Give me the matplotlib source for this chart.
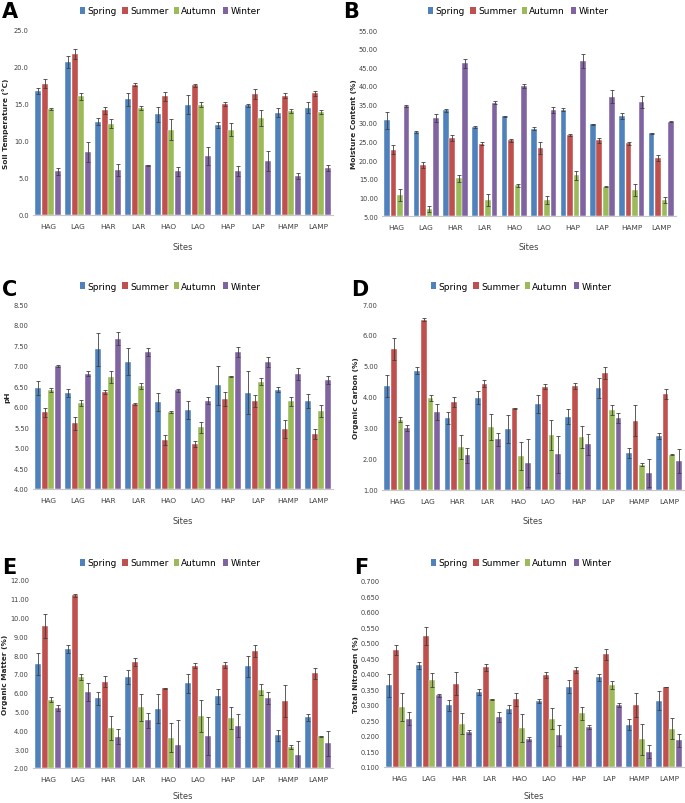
import numpy as np
import matplotlib
matplotlib.use('Agg')
import matplotlib.pyplot as plt
from matplotlib.patches import Patch
from matplotlib import font_manager

# narrow font for ticks (Excel style); fall back if not installed
names = {f.name for f in font_manager.fontManager.ttflist}
narrow = 'Liberation Sans Narrow' if 'Liberation Sans Narrow' in names else 'DejaVu Sans'
plt.rcParams['font.family'] = [narrow, 'DejaVu Sans']

sites = ['HAG', 'LAG', 'HAR', 'LAR', 'HAO', 'LAO', 'HAP', 'LAP', 'HAMP', 'LAMP']
seasons = ['Spring', 'Summer', 'Autumn', 'Winter']
colors = ['#4F81BD', '#C0504D', '#9BBB59', '#8064A2']

# A - soil temperature, rows = sites, cols = seasons
temp = [[16.7, 17.7, 14.3, 5.9], [20.6, 21.7, 16.0, 8.5], [12.6, 14.1, 12.3, 6.1],
        [15.6, 17.6, 14.4, 6.7], [13.6, 16.0, 11.5, 5.9], [14.9, 17.5, 14.9, 8.0],
        [12.2, 15.0, 11.5, 5.9], [14.8, 16.3, 13.1, 7.3], [13.8, 16.1, 14.0, 5.3],
        [14.5, 16.4, 13.9, 6.4]]
temp_err = [[0.4, 0.6, 0.2, 0.5], [0.8, 0.7, 0.5, 1.4], [0.5, 0.5, 0.6, 0.8],
            [0.9, 0.2, 0.3, 0.1], [1.0, 0.6, 1.4, 0.6], [1.3, 0.2, 0.3, 1.2],
            [0.4, 0.3, 0.9, 0.7], [0.2, 0.7, 1.1, 1.3], [0.6, 0.3, 0.3, 0.4],
            [0.8, 0.3, 0.3, 0.4]]

# B - moisture content
moist = [[30.7, 22.8, 10.6, 34.6], [27.5, 18.7, 6.9, 31.4], [33.4, 26.0, 15.1, 46.0],
         [28.9, 24.4, 9.3, 35.5], [31.8, 25.4, 13.2, 39.9], [28.4, 23.3, 9.3, 33.5],
         [33.6, 26.8, 15.9, 46.7], [29.6, 25.3, 12.9, 37.1], [32.0, 24.6, 12.1, 35.7],
         [27.2, 20.7, 9.3, 30.4]]
moist_err = [[2.2, 1.2, 1.7, 0.3], [0.3, 0.8, 0.9, 1.0], [0.4, 0.8, 1.0, 1.2],
             [0.3, 0.4, 1.5, 0.3], [0.2, 0.4, 0.5, 0.6], [0.4, 1.7, 1.2, 0.7],
             [0.5, 0.2, 1.2, 1.8], [0.1, 0.6, 0.2, 1.7], [0.8, 0.4, 1.6, 1.6],
             [0.2, 0.8, 0.8, 0.2]]

# C - pH
ph = [[6.46, 5.87, 6.40, 6.99], [6.33, 5.60, 6.09, 6.80], [7.40, 6.36, 6.73, 7.66],
      [7.10, 6.07, 6.50, 7.34], [6.12, 5.19, 5.87, 6.40], [5.93, 5.10, 5.50, 6.15],
      [6.52, 6.19, 6.74, 7.33], [6.34, 6.14, 6.61, 7.08], [6.42, 5.45, 6.14, 6.80],
      [6.14, 5.33, 5.89, 6.66]]
ph_err = [[0.17, 0.11, 0.05, 0.02], [0.10, 0.16, 0.08, 0.06], [0.40, 0.05, 0.14, 0.15],
          [0.32, 0.03, 0.07, 0.10], [0.22, 0.12, 0.03, 0.03], [0.22, 0.07, 0.13, 0.09],
          [0.47, 0.16, 0.02, 0.12], [0.52, 0.14, 0.09, 0.12], [0.06, 0.22, 0.11, 0.15],
          [0.18, 0.12, 0.15, 0.10]]

# D - organic carbon
oc = [[4.36, 5.55, 3.27, 3.01], [4.85, 6.50, 3.96, 3.52], [3.32, 3.83, 2.39, 2.12],
      [3.98, 4.43, 3.03, 2.63], [2.98, 3.63, 2.10, 1.88], [3.77, 4.33, 2.78, 2.15],
      [3.37, 4.35, 2.71, 2.47], [4.30, 4.78, 3.58, 3.33], [2.18, 3.24, 1.82, 1.55],
      [2.73, 4.10, 2.14, 1.93]]
oc_err = [[0.35, 0.35, 0.07, 0.10], [0.12, 0.05, 0.10, 0.27], [0.20, 0.16, 0.39, 0.24],
          [0.22, 0.12, 0.43, 0.22], [0.45, 0.02, 0.45, 0.77], [0.29, 0.08, 0.48, 0.60],
          [0.23, 0.09, 0.34, 0.35], [0.32, 0.19, 0.17, 0.17], [0.16, 0.50, 0.06, 0.45],
          [0.10, 0.17, 0.02, 0.38]]

# E - organic matter
om = [[7.53, 9.55, 5.64, 5.19], [8.33, 11.18, 6.83, 6.06], [5.71, 6.59, 4.14, 3.66],
      [6.84, 7.63, 5.23, 4.53], [5.14, 6.25, 3.62, 3.23], [6.50, 7.45, 4.78, 3.71],
      [5.81, 7.50, 4.68, 4.26], [7.40, 8.24, 6.17, 5.72], [3.75, 5.58, 3.13, 2.68],
      [4.70, 7.05, 3.69, 3.32]]
om_err = [[0.57, 0.62, 0.13, 0.17], [0.23, 0.08, 0.17, 0.47], [0.35, 0.30, 0.64, 0.40],
          [0.38, 0.21, 0.73, 0.40], [0.77, 0.03, 0.78, 1.33], [0.50, 0.14, 0.84, 1.02],
          [0.40, 0.16, 0.59, 0.62], [0.56, 0.32, 0.29, 0.30], [0.29, 0.86, 0.10, 0.77],
          [0.18, 0.29, 0.03, 0.67]]

# F - total nitrogen
tn = [[0.363, 0.478, 0.295, 0.256], [0.428, 0.523, 0.381, 0.331], [0.299, 0.369, 0.240, 0.214],
      [0.342, 0.421, 0.318, 0.260], [0.287, 0.318, 0.226, 0.190], [0.314, 0.397, 0.255, 0.202],
      [0.359, 0.413, 0.273, 0.230], [0.389, 0.463, 0.364, 0.300], [0.237, 0.300, 0.190, 0.149],
      [0.314, 0.358, 0.224, 0.186]]
tn_err = [[0.038, 0.017, 0.045, 0.022], [0.011, 0.030, 0.022, 0.006], [0.018, 0.038, 0.034, 0.006],
          [0.011, 0.011, 0.001, 0.016], [0.012, 0.022, 0.044, 0.006], [0.006, 0.011, 0.034, 0.033],
          [0.021, 0.011, 0.021, 0.006], [0.012, 0.017, 0.013, 0.006], [0.017, 0.039, 0.050, 0.021],
          [0.030, 0.001, 0.035, 0.022]]

W, H = 685, 804
fig = plt.figure(figsize=(W / 100, H / 100), dpi=100)
ytick_fs = 5.5 if narrow != 'DejaVu Sans' else 4.8
xtick_fs = 6 if narrow != 'DejaVu Sans' else 5.3


def px_rect(x0, y_top, x1, y_bot):
    return [x0 / W, 1 - y_bot / H, (x1 - x0) / W, (y_bot - y_top) / H]


def panel(letter, box, vals, errs, ylim, step, fmt, ylabel, letter_xy, leg_xy, sites_y, ylab_x):
    ax = fig.add_axes(px_rect(*box))
    vals = np.array(vals)
    errs = np.array(errs)
    x = np.arange(len(sites))
    bw = 0.19
    pitch = 0.22
    for i, s in enumerate(seasons):
        xs = x + (i - 1.5) * pitch
        ax.bar(xs, vals[:, i] - ylim[0], bw, bottom=ylim[0], color=colors[i],
               edgecolor='white', linewidth=0.3, zorder=2)
        ax.errorbar(xs, vals[:, i], yerr=errs[:, i], fmt='none', ecolor='#404040',
                    elinewidth=0.6, capsize=1.2, capthick=0.6, zorder=3)
    ax.set_xlim(-0.5, len(sites) - 0.5)
    ax.set_ylim(*ylim)
    ticks = np.arange(ylim[0], ylim[1] + step / 2, step)
    ax.set_yticks(ticks)
    ax.set_yticklabels([fmt.format(t) for t in ticks])
    ax.set_xticks(x)
    ax.set_xticklabels(sites)
    ax.tick_params(axis='x', length=0, labelsize=xtick_fs, colors='#404040', pad=6)
    ax.tick_params(axis='y', length=0, labelsize=ytick_fs, colors='#404040', pad=3)
    for side in ['top', 'right', 'left']:
        ax.spines[side].set_visible(False)
    ax.spines['bottom'].set_color('#c8c8c8')
    ax.spines['bottom'].set_linewidth(0.8)
    cx = (box[0] + box[2]) / 2
    fig.text(cx / W, 1 - sites_y / H, 'Sites', ha='center', va='center',
             fontsize=6, color='#404040')
    fig.text(ylab_x / W, 1 - (box[1] + box[3]) / 2 / H, ylabel, rotation=90,
             ha='center', va='center', fontsize=5.3, fontweight='bold',
             family='DejaVu Sans', color='#262626')
    fig.text(letter_xy[0] / W, 1 - letter_xy[1] / H, letter, ha='left', va='center',
             fontsize=15, fontweight='bold', family='DejaVu Sans')
    handles = [Patch(facecolor=c, label=s) for c, s in zip(colors, seasons)]
    fig.legend(handles=handles, loc='center', bbox_to_anchor=(leg_xy[0] / W, 1 - leg_xy[1] / H),
               ncol=4, frameon=False, fontsize=6.5, handlelength=0.6, handleheight=0.8,
               handletextpad=0.25, columnspacing=0.6, borderpad=0)
    return ax


panel('A', (33, 30.7, 333, 216), temp, temp_err, (0, 25), 5, '{:.1f}',
      'Soil Temperature (°C)', (2, 12), (170, 12), 247, 6)
panel('B', (382, 31, 676, 217), moist, moist_err, (5, 55), 5, '{:.2f}',
      'Moisture Content (%)', (343, 12), (518, 12), 247, 354)
panel('C', (33, 305, 333, 490), ph, ph_err, (4, 8.5), 0.5, '{:.2f}',
      'pH', (2, 290), (170, 287), 522, 7)
panel('D', (382, 305, 684, 491), oc, oc_err, (1, 7), 1, '{:.2f}',
      'Organic Carbon (%)', (351, 290), (521, 287), 522, 356)
panel('E', (33, 581, 333, 769), om, om_err, (2, 12), 1, '{:.2f}',
      'Organic Matter (%)', (2, 568), (170, 564), 797, 5)
panel('F', (384, 582, 684, 768), tn, tn_err, (0.1, 0.7), 0.05, '{:.3f}',
      'Total Nitrogen (%)', (354, 568), (521, 564), 797, 356)

fig.savefig('out.png', dpi=100)
